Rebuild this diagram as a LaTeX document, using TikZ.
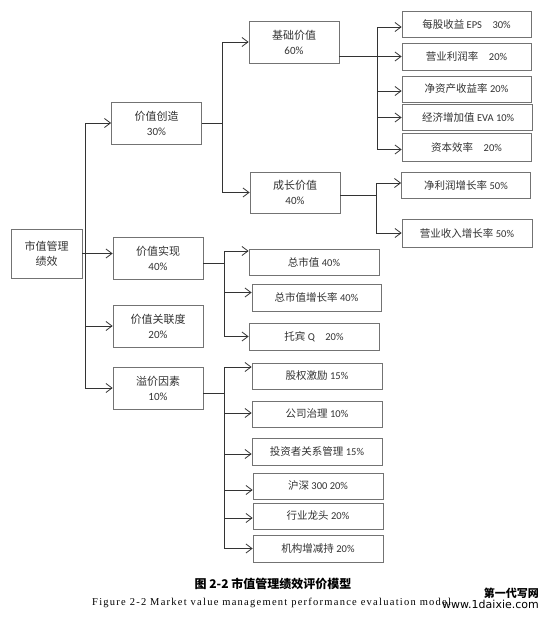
\documentclass[tikz,border=0pt]{standalone}
\usepackage{fontspec}
\setmainfont{Carlito}
\newfontfamily\cjk{Noto Sans CJK SC}
\newfontfamily\capfont[LetterSpace=12]{Liberation Serif}
\newfontfamily\wmfont{DejaVu Sans}
\usetikzlibrary{arrows.meta}
\newcommand{\zh}[1]{{\cjk #1}}

\begin{document}
\begin{tikzpicture}[
  x=1pt, y=-1pt,
  box/.style={
    draw=black!55, line width=0.7pt, fill=white, text=black!80,
    inner sep=0pt, align=center, font=\fontsize{11}{15}\selectfont,
  },
  mid/.style={box, minimum width=90pt, minimum height=42pt},
  leaf/.style={box, minimum width=129pt, minimum height=26pt,
    font=\fontsize{10.5}{12}\selectfont},
  link/.style={draw=black!80, line width=0.8pt,
    -{Straight Barb[length=6pt,width=9pt]}},
  stem/.style={draw=black!80, line width=0.8pt},
  ]
  \useasboundingbox (0,0) rectangle (552,618);

  \node[box, minimum width=71pt, minimum height=49pt] (root) at (46.5,253.5)
    {\zh{市值管理}\\\zh{绩效}};

  \node[mid] (create) at (156.5,123) {\zh{价值创造}\\30\%};
  \node[mid] (real)   at (158,258)   {\zh{价值实现}\\40\%};
  \node[mid] (corr)   at (158,326)   {\zh{价值关联度}\\20\%};
  \node[mid] (prem)   at (158,388)   {\zh{溢价因素}\\10\%};

  \node[mid] (base)   at (294,42)    {\zh{基础价值}\\60\%};
  \node[mid, minimum height=41pt] (grow) at (295,192.5) {\zh{成长价值}\\40\%};

  \node[leaf] (eps)  at (466.5,24.5) {\zh{每股收益} EPS\quad 30\%};
  \node[leaf, minimum height=27pt] (opm) at (466.5,56.5) {\zh{营业利润率}\quad 20\%};
  \node[leaf] (roe)  at (466.5,89)   {\zh{净资产收益率} 20\%};
  \node[leaf, minimum width=130pt] (eva) at (467,117.5) {\ \zh{经济增加值} EVA 10\%};
  \node[leaf, minimum height=28pt] (cap) at (466.5,147.5) {\zh{资本效率}\quad 20\%};
  \node[leaf] (npg)  at (466,185)    {\zh{净利润增长率} 50\%};
  \node[leaf, minimum width=130pt, minimum height=28pt] (rvg) at (467,233)
    {\zh{营业收入增长率} 50\%};

  \node[leaf, minimum width=130pt] (mv)  at (314,262)   {\zh{总市值} 40\%};
  \node[leaf, minimum height=27pt] (mvg) at (316.5,297.5) {\zh{总市值增长率} 40\%};
  \node[leaf, minimum width=130pt, minimum height=27pt] (tq) at (314,336.5)
    {\zh{托宾} Q\quad 20\%};

  \node[leaf, minimum width=130pt] (esop) at (317,376)  {\zh{股权激励} 15\%};
  \node[leaf, minimum width=130pt] (gov)  at (317,414)  {\zh{公司治理} 10\%};
  \node[leaf, minimum width=130pt, minimum height=27pt] (ir) at (317,451.5)
    {\zh{投资者关系管理} 15\%};
  \node[leaf, minimum width=130pt] (hs)   at (318,486)  {\zh{沪深} 300 20\%};
  \node[leaf, minimum width=130pt] (lead) at (318,516)  {\zh{行业龙头} 20\%};
  \node[leaf, minimum width=130pt, minimum height=27pt] (inst) at (318,548.5)
    {\zh{机构增减持} 20\%};

  \coordinate (t0) at (85,253.5);
  \draw[link] (root.east) -- (root.east -| real.west);
  \draw[link] (t0) |- (create.west);
  \draw[link] (t0) |- (corr.west);
  \draw[link] (t0) |- (prem.west);

  \coordinate (t1) at (222,123);
  \draw[stem] (create.east) -- (t1);
  \draw[link] (t1) |- (base.west);
  \draw[link] (t1) |- (grow.west);

  \coordinate (t2) at (377,56);
  \draw[stem] (base.east |- t2) -- (t2);
  \draw[link] (t2) |- ([yshift=-2.5pt]eps.west);
  \draw[link] (t2) |- (opm.west);
  \draw[link] (t2) |- ([yshift=-2pt]roe.west);
  \draw[link] (t2) |- (eva.west);
  \draw[link] (t2) |- ([yshift=-2pt]cap.west);

  \coordinate (t3) at (376,195);
  \draw[stem] (grow.east |- t3) -- (t3);
  \draw[link] (t3) |- ([yshift=2pt]npg.west);
  \draw[link] (t3) |- (rvg.west);

  \coordinate (t4) at (224,263);
  \draw[stem] (real.east |- t4) -- (t4);
  \draw[link] (t4) |- ([yshift=11pt]mv.west);
  \draw[link] (t4) |- ([yshift=5pt]mvg.west);
  \draw[link] (t4) |- (tq.west);

  \coordinate (t5) at (224,393);
  \draw[stem] (prem.east |- t5) -- (t5);
  \draw[link] (t5) |- ([yshift=9pt]esop.west);
  \draw[link] (t5) |- ([yshift=1pt]gov.west);
  \draw[link] (t5) |- ([yshift=-2.5pt]ir.west);
  \draw[link] (t5) |- ([yshift=-4pt]hs.west);
  \draw[link] (t5) |- ([yshift=-2pt]lead.west);
  \draw[link] (t5) |- (inst.west);

  \node[font=\cjk\bfseries\fontsize{12}{14}\selectfont] (title) at (273,584)
    {图 2-2 市值管理绩效评价模型};
  \node[anchor=west, inner sep=0pt, font=\capfont\fontsize{10.5}{12}\selectfont] (entitle)
    at (92,603) {Figure 2-2 Market value management performance evaluation model};
  \node[anchor=east, inner sep=0pt, font=\cjk\bfseries\fontsize{11}{13}\selectfont] (wm1)
    at (539,593) {第一代写网};
  \node[anchor=east, inner sep=0pt, font=\wmfont\fontsize{11}{13}\selectfont] (wm2)
    at (539,604) {www.1daixie.com};
\end{tikzpicture}
\end{document}
